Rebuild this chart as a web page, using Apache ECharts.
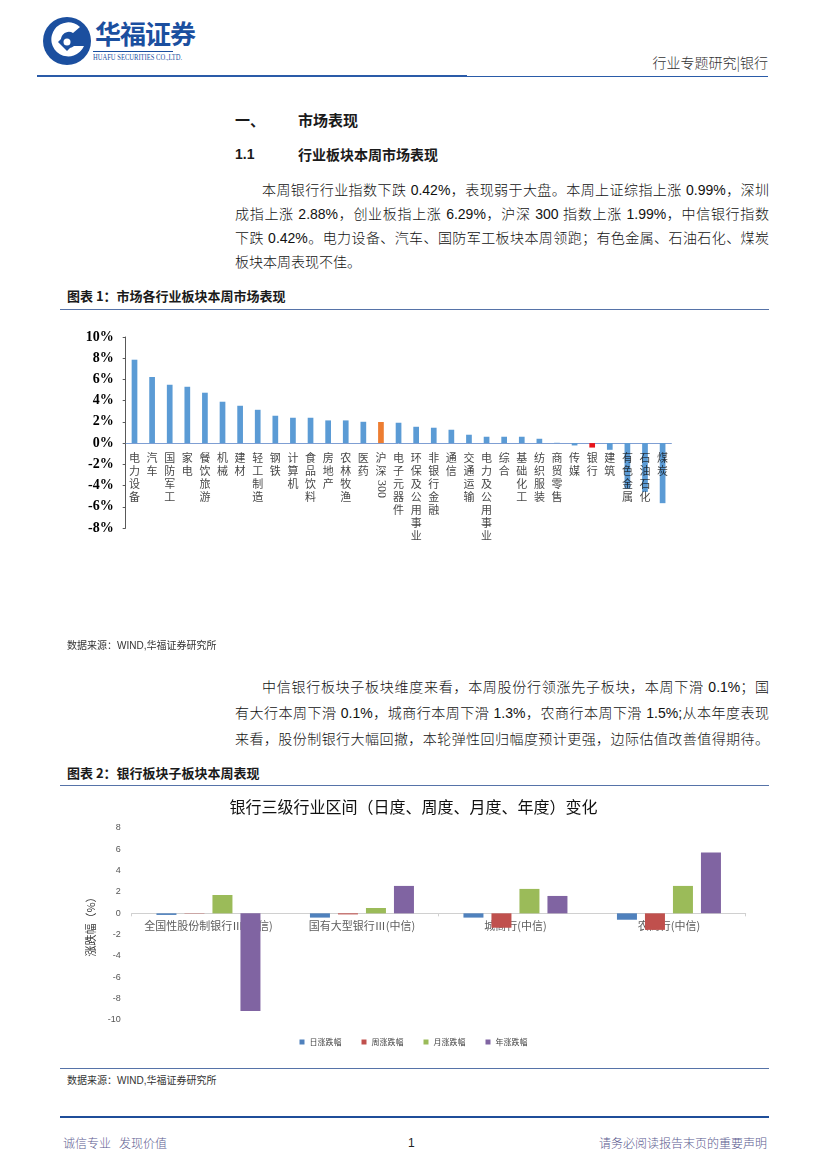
<!DOCTYPE html>
<html><head><meta charset="utf-8">
<script src="https://cdn.jsdelivr.net/npm/echarts@6/dist/echarts.min.js"></script>
<style>
html,body{margin:0;padding:0;background:#fff;}
body{width:827px;height:1169px;position:relative;overflow:hidden;font-family:"Liberation Sans","Noto Sans CJK SC",sans-serif;color:#1a1a1a;}
.a{position:absolute;white-space:nowrap;}
.ln{position:absolute;height:0;}
.p{position:absolute;font-size:14px;line-height:24px;height:24px;text-align:justify;text-align-last:justify;white-space:nowrap;font-weight:300;color:#111;}
.b{font-weight:bold;}
</style></head>
<body>
<script>
// ---------- data ----------
const sectorNames = ['电力设备','汽车','国防军工','家电','餐饮旅游','机械','建材','轻工制造','钢铁','计算机','食品饮料','房地产','农林牧渔','医药','沪深300','电子元器件','环保及公用事业','非银行金融','通信','交通运输','电力及公用事业','综合','基础化工','纺织服装','商贸零售','传媒','银行','建筑','有色金属','石油石化','煤炭'];
const sectorChange = [7.86,6.23,5.50,5.31,4.75,3.90,3.52,3.14,2.58,2.39,2.39,2.14,2.14,2.01,1.99,1.92,1.54,1.45,1.26,0.79,0.60,0.60,0.60,0.41,0.03,-0.22,-0.42,-0.63,-4.30,-4.60,-5.66];
const pctTicks = {min:-8, max:10, step:2};

const bankNames = ['全国性股份制银行Ⅲ(中信)','国有大型银行Ⅲ(中信)','城商行(中信)','农商行(中信)'];
const dayChange = [-0.15,-0.40,-0.40,-0.60];
const weekChange = [-0.03,-0.10,-1.35,-1.55];
const monthChange = [1.72,0.50,2.29,2.57];
const yearChange = [-9.15,2.57,1.63,5.70];
const seriesNames = ['日涨跌幅','周涨跌幅','月涨跌幅','年涨跌幅'];
const bankTicks = {min:-10, max:8, step:2};
</script>

<!-- header -->
<svg class="a" style="left:40px;top:16px" width="56" height="52" viewBox="0 0 56 52">
  <circle cx="27" cy="25" r="24" fill="#1b4f9f"/>
  <path d="M40 11 A17 17 0 1 0 44 30 L34 30 A8 8 0 1 1 33 17 Z" fill="#fff"/>
  <path d="M27 17 L36 26 L27 35 L18 26 Z" fill="#1b4f9f"/>
  <circle cx="27" cy="26" r="3.5" fill="#fff"/>
</svg>
<div class="a b" style="left:95px;top:17px;font-size:26px;line-height:32px;color:#1b4f9f;font-family:'Noto Sans CJK SC';letter-spacing:-1px;">华福证券</div>
<div class="ln" style="left:93px;top:51px;width:80px;border-top:1px solid #1b4f9f;"></div>
<div class="a" style="left:93px;top:53px;font-size:8px;line-height:10px;color:#1b4f9f;font-family:'Liberation Serif';transform:scaleX(0.82);transform-origin:left;">HUAFU SECURITIES CO.,LTD.</div>
<div class="a" style="right:59px;top:52px;font-size:14px;line-height:20px;color:#333;font-family:'Noto Sans CJK SC';font-weight:300;">行业专题研究|银行</div>
<div class="ln" style="left:37px;top:75px;width:430px;border-top:2px solid #2a5ba8;"></div>
<div class="ln" style="left:467px;top:75.5px;width:301px;border-top:1.5px solid #2a5ba8;"></div>

<!-- headings -->
<div class="a b" style="left:235px;top:110px;font-size:15px;line-height:20px;font-family:'Noto Sans CJK SC';">一、</div>
<div class="a b" style="left:298px;top:110px;font-size:15px;line-height:20px;font-family:'Noto Sans CJK SC';">市场表现</div>
<div class="a b" style="left:235px;top:144px;font-size:14px;line-height:20px;">1.1</div>
<div class="a b" style="left:298px;top:144px;font-size:14px;line-height:20px;font-family:'Noto Sans CJK SC';">行业板块本周市场表现</div>

<div class="p" style="left:262px;top:178px;width:507px;">本周银行行业指数下跌 0.42%，表现弱于大盘。本周上证综指上涨 0.99%，深圳</div>
<div class="p" style="left:235px;top:202px;width:534px;">成指上涨 2.88%，创业板指上涨 6.29%，沪深 300 指数上涨 1.99%，中信银行指数</div>
<div class="p" style="left:235px;top:226px;width:534px;">下跌 0.42%。电力设备、汽车、国防军工板块本周领跑；有色金属、石油石化、煤炭</div>
<div class="p" style="left:235px;top:250px;text-align-last:left;">板块本周表现不佳。</div>

<div class="a b" style="left:67px;top:287px;font-size:13px;line-height:18px;font-family:'Noto Sans CJK SC';">图表 1：市场各行业板块本周市场表现</div>
<div class="ln" style="left:60px;top:309px;width:709px;border-top:1px solid #5673a8;"></div>

<div id="c1" class="a" style="left:0;top:310px;width:827px;height:330px;"></div>

<div class="a" style="left:67px;top:639px;font-size:10px;line-height:14px;color:#333;">数据来源：WIND,华福证券研究所</div>

<div class="p" style="left:262px;top:674px;width:507px;line-height:26px;height:26px;">中信银行板块子板块维度来看，本周股份行领涨先子板块，本周下滑 0.1%；国</div>
<div class="p" style="left:235px;top:700px;width:534px;line-height:26px;height:26px;">有大行本周下滑 0.1%，城商行本周下滑 1.3%，农商行本周下滑 1.5%;从本年度表现</div>
<div class="p" style="left:235px;top:726px;width:534px;line-height:26px;height:26px;">来看，股份制银行大幅回撤，本轮弹性回归幅度预计更强，边际估值改善值得期待。</div>

<div class="a b" style="left:67px;top:764px;font-size:13px;line-height:18px;font-family:'Noto Sans CJK SC';">图表 2：银行板块子板块本周表现</div>
<div class="ln" style="left:60px;top:785px;width:709px;border-top:1px solid #5673a8;"></div>

<div id="c2" class="a" style="left:0;top:790px;width:827px;height:270px;"></div>

<div class="ln" style="left:60px;top:1068px;width:709px;border-top:1px solid #5673a8;"></div>
<div class="a" style="left:67px;top:1074px;font-size:10px;line-height:14px;color:#333;">数据来源：WIND,华福证券研究所</div>
<div class="ln" style="left:60px;top:1116px;width:709px;border-top:2px solid #1f4e99;"></div>

<!-- footer -->
<div class="a" style="left:63px;top:1135px;font-size:12px;line-height:16px;color:#5b5b8f;font-family:'Noto Sans CJK SC';font-weight:300;">诚信专业&nbsp;&nbsp;&nbsp;发现价值</div>
<div class="a" style="left:408px;top:1135px;font-size:12px;line-height:16px;color:#222;">1</div>
<div class="a" style="right:60px;top:1135px;font-size:12px;line-height:16px;color:#5b5b8f;font-family:'Noto Sans CJK SC';font-weight:300;">请务必阅读报告末页的重要声明</div>

<script>
const cjk = '"Noto Sans CJK SC"';
// vertical label text: CJK chars stacked; a run of digits stays as one token (drawn rotated separately)
function stackCjk(name){ return name.replace(/\d+/g,'').split('').join('\n'); }
// ---------- chart 1 ----------
const c1 = echarts.init(document.getElementById('c1'), null, {renderer:'canvas'});
const barColors = sectorNames.map(n => n === '沪深300' ? '#ED7D31' : (n === '银行' ? '#E8141B' : '#5B9BD5'));
const digitIdx = sectorNames.map((n,i)=>/\d/.test(n) ? i : -1).filter(i=>i>=0);
c1.setOption({
  animation:false,
  grid:{left:125.7, right:155.6, top:27, bottom:112, containLabel:false, outerBoundsMode:'none'},
  xAxis:{
    type:'category', data:sectorNames,
    axisLine:{onZero:true, lineStyle:{color:'#7f9fd3', width:1}},
    axisTick:{show:false},
    axisLabel:{show:false}
  },
  yAxis:{
    type:'value', min:pctTicks.min, max:pctTicks.max, interval:pctTicks.step,
    splitLine:{show:false},
    axisLine:{show:true, lineStyle:{color:'#595959'}},
    axisTick:{show:true, length:3, lineStyle:{color:'#595959'}},
    axisLabel:{margin:12, fontSize:14, fontWeight:'bold', color:'#000', fontFamily:'"Liberation Serif"',
      formatter:v => v + '%'}
  },
  series:[{
    type:'bar', barWidth:5.7, z:2,
    data:sectorChange.map((v,i)=>({value:v, itemStyle:{color:barColors[i]}}))
  },{
    type:'scatter', symbolSize:0, silent:true, z:3,
    data:sectorNames.map((n,i)=>[i,0]),
    label:{show:true, position:'bottom', distance:8, fontSize:11, lineHeight:13, color:'#111', fontFamily:cjk,
      formatter:p => stackCjk(sectorNames[p.dataIndex])}
  },{
    type:'scatter', symbolSize:0, silent:true, z:3,
    data:digitIdx.map(i=>[i,0]),
    label:{show:true, position:[0,0], offset:[46,0], align:'center', verticalAlign:'middle', rotate:-90,
      fontSize:12, color:'#111', fontFamily:'"Liberation Serif"',
      formatter:p => sectorNames[digitIdx[p.dataIndex]].replace(/[^\d]/g,'')}
  }]
});

// ---------- chart 2 ----------
const c2 = echarts.init(document.getElementById('c2'), null, {renderer:'canvas'});
const cols2 = ['#4F81BD','#C0504D','#9BBB59','#8064A2'];
const vals2 = [dayChange, weekChange, monthChange, yearChange];
c2.setOption({
  animation:false,
  title:{text:'银行三级行业区间（日度、周度、月度、年度）变化', left:'center', top:4,
    textStyle:{fontSize:16, fontWeight:'normal', color:'#111', fontFamily:cjk}},
  legend:{bottom:9, left:'center', itemWidth:5, itemHeight:5, itemGap:20, icon:'rect',
    textStyle:{fontSize:8, color:'#444', fontFamily:cjk}, data:seriesNames},
  grid:{left:131.7, right:81.3, top:38, bottom:40, containLabel:false, outerBoundsMode:'none'},
  xAxis:{
    type:'category', data:bankNames,
    axisLine:{onZero:true, lineStyle:{color:'#d0d0d0'}},
    axisTick:{show:true, length:3, lineStyle:{color:'#d0d0d0'}},
    axisLabel:{show:false}
  },
  yAxis:{
    type:'value', min:bankTicks.min, max:bankTicks.max, interval:bankTicks.step,
    name:'涨跌幅（%）', nameLocation:'middle', nameGap:16, nameRotate:90,
    nameTextStyle:{fontSize:11, color:'#333', fontFamily:cjk},
    splitLine:{show:false}, axisLine:{show:false}, axisTick:{show:false},
    axisLabel:{margin:11, fontSize:9, color:'#555', fontFamily:'"Liberation Sans"'}
  },
  series:[{
    type:'scatter', symbolSize:0, silent:true, z:1,
    data:bankNames.map((n,i)=>[i,0]),
    label:{show:true, position:'bottom', distance:7, fontSize:11, color:'#333', fontFamily:cjk,
      formatter:p => bankNames[p.dataIndex]}
  }].concat(seriesNames.map((n,i)=>({
    name:n, type:'bar', data:vals2[i], barWidth:20, barGap:'40%', z:2,
    itemStyle:{color:cols2[i]}
  })))
});
</script>
</body></html>
